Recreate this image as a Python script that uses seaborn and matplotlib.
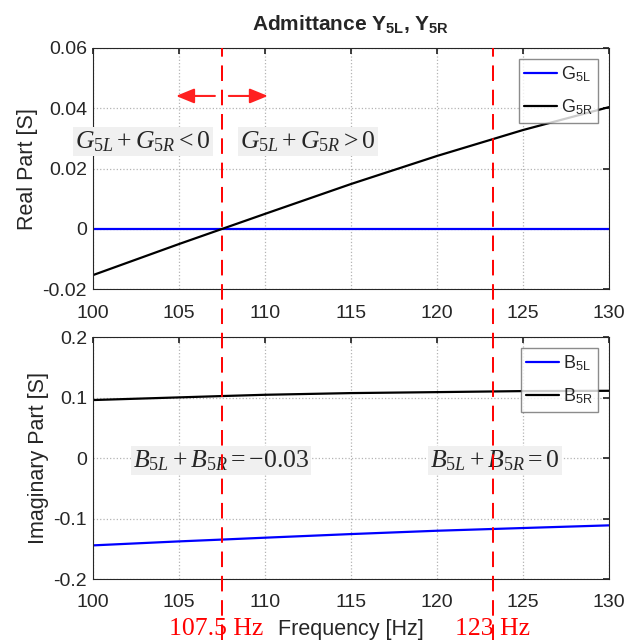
import numpy as np
import pandas as pd
import matplotlib
matplotlib.use("Agg")
import matplotlib.pyplot as plt
import matplotlib.transforms as mtransforms
from matplotlib.lines import Line2D
import seaborn as sns

# Frequency grid and admittance components
freq = [100, 105, 107.5, 110, 115, 120, 125, 130]
g5l = [0, 0, 0, 0, 0, 0, 0, 0]
g5r = [-0.0153, -0.0050, 0.0, 0.0050, 0.0149, 0.0242, 0.0328, 0.0404]
b5l = [-0.1444, -0.1378, -0.1348, -0.1317, -0.1257, -0.1202, -0.1157, -0.1113]
b5r = [0.0959, 0.1003, 0.1025, 0.1046, 0.1074, 0.1090, 0.1107, 0.1112]

# Marked frequencies
f_marks = [107.5, 123.27]
f_mark_labels = ["107.5 Hz", "123 Hz"]
f_label_x = [107.15, 123.2]

real_ticks = [-0.02, 0, 0.02, 0.04, 0.06]
real_tick_labels = ["-0.02", "0", "0.02", "0.04", "0.06"]
imag_ticks = [-0.2, -0.1, 0, 0.1, 0.2]
imag_tick_labels = ["-0.2", "-0.1", "0", "0.1", "0.2"]
x_ticks = [100, 105, 110, 115, 120, 125, 130]

sns.set_theme(style="white")
plt.rcParams.update({
    "font.family": ["Liberation Sans", "DejaVu Sans"],
    "mathtext.fontset": "custom",
    "mathtext.rm": "Liberation Serif",
    "mathtext.it": "Liberation Serif:italic",
    "mathtext.bf": "Liberation Sans:bold",
    "mathtext.sf": "Liberation Sans",
    "axes.unicode_minus": False,
})

df = pd.DataFrame({"f": freq, "G5L": g5l, "G5R": g5r, "B5L": b5l, "B5R": b5r})

fig = plt.figure(figsize=(6.39, 6.40), dpi=100)
ax1 = fig.add_axes([0.1455, 0.548, 0.8075, 0.377])
ax2 = fig.add_axes([0.1455, 0.0953, 0.8075, 0.378])

sns.lineplot(data=df, x="f", y="G5L", ax=ax1, color=(0, 0, 1), lw=1.6,
             label=r"G$_{\mathsf{5L}}$")
sns.lineplot(data=df, x="f", y="G5R", ax=ax1, color="black", lw=1.6,
             label=r"G$_{\mathsf{5R}}$")
sns.lineplot(data=df, x="f", y="B5L", ax=ax2, color=(0, 0, 1), lw=1.6,
             label=r"B$_{\mathsf{5L}}$")
sns.lineplot(data=df, x="f", y="B5R", ax=ax2, color="black", lw=1.6,
             label=r"B$_{\mathsf{5R}}$")

for ax, yt, ytl, ylim, ylab in [
    (ax1, real_ticks, real_tick_labels, (-0.02, 0.06), "Real Part [S]"),
    (ax2, imag_ticks, imag_tick_labels, (-0.2, 0.2), "Imaginary Part [S]"),
]:
    ax.set_xlim(100, 130)
    ax.set_ylim(*ylim)
    ax.set_xticks(x_ticks)
    ax.set_xticklabels([str(t) for t in x_ticks])
    ax.set_yticks(yt)
    ax.set_yticklabels(ytl)
    ax.tick_params(direction="in", top=True, right=True, length=4,
                   labelsize=14, colors="#262626")
    ax.tick_params(axis="y", pad=4.3)
    ax.tick_params(axis="x", pad=11)
    ax.grid(True, linestyle=":", color="#b4b4b4", lw=0.9)
    for s in ax.spines.values():
        s.set_color("#262626")
        s.set_linewidth(0.8)
    ax.set_ylabel(ylab, fontsize=15.5, color="#262626", labelpad=3.5)
    ax.set_xlabel("")
    leg = ax.legend(loc="upper right", fontsize=13, frameon=True, fancybox=False,
                    handlelength=1.85, borderpad=0.3, labelspacing=0.75,
                    handletextpad=0.2, borderaxespad=0.6)
    leg.get_frame().set_edgecolor("#707070")
    leg.get_frame().set_linewidth(1.0)

ax1.set_title(r"Admittance Y$_{\mathbf{5L}}$, Y$_{\mathbf{5R}}$",
              fontsize=15, fontweight="bold", pad=13)
ax2.set_xlabel("Frequency [Hz]", fontsize=15.5, color="#262626")

# Red dashed markers spanning both panels
trans = mtransforms.blended_transform_factory(ax1.transData, fig.transFigure)
for f in f_marks:
    fig.add_artist(Line2D([f, f], [0.0, 0.925], transform=trans, color="red",
                          lw=1.4, dashes=(8, 4.5)))
for fx, lab in zip(f_label_x, f_mark_labels):
    fig.text(fx, 0.0078, lab, transform=trans, color="red", fontsize=18.5,
             family="Liberation Serif", ha="center", va="baseline")

# x-axis label: centred on the axes, baseline level with the red labels
label_trans = mtransforms.blended_transform_factory(ax2.transAxes, fig.transFigure)
ax2.xaxis.set_label_coords(0.5, 0.0078, transform=label_trans)
ax2.xaxis.label.set_va("baseline")

# Annotations
box = dict(facecolor="#f0f0f0", edgecolor="none", pad=1.5)
ax1.text(102.9, 0.029, r"$G_{5L}+G_{5R}<0$", fontsize=18.5, ha="center",
         va="center", bbox=box, clip_on=False)
ax1.text(112.5, 0.029, r"$G_{5L}+G_{5R}>0$", fontsize=18.5, ha="center",
         va="center", bbox=box)
ax2.text(107.44, -0.004, r"$B_{5L}+B_{5R}=-0.03$", fontsize=18.5, ha="center",
         va="center", bbox=box)
ax2.text(123.37, -0.004, r"$B_{5L}+B_{5R}=0$", fontsize=18.5, ha="center",
         va="center", bbox=box)

arrow = dict(arrowstyle="-|>,head_length=1.1,head_width=0.45", color="#ff2020",
             lw=1.5, mutation_scale=10, shrinkA=0, shrinkB=0)
ax1.annotate("", xy=(104.83, 0.0441), xytext=(107.09, 0.0441), arrowprops=arrow)
ax1.annotate("", xy=(110.17, 0.0441), xytext=(107.9, 0.0441), arrowprops=arrow)

fig.savefig("out.png", dpi=100, facecolor="white")
